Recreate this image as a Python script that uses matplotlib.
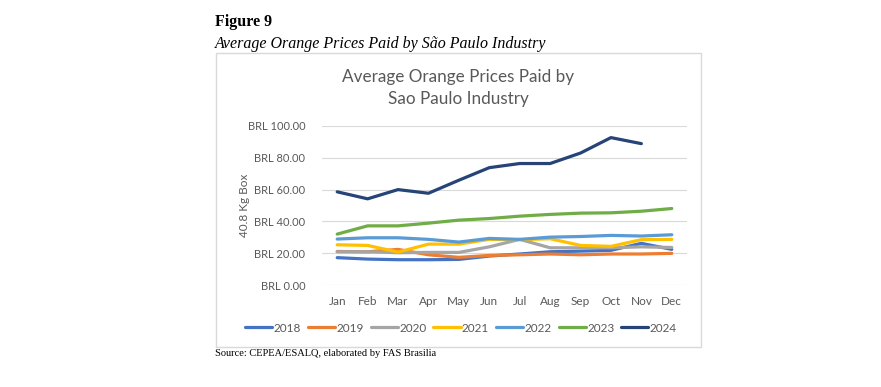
import matplotlib
matplotlib.use("Agg")
import matplotlib.pyplot as plt
from matplotlib.patches import Rectangle

# Data (BRL per 40.8 kg box)
months = ['Jan', 'Feb', 'Mar', 'Apr', 'May', 'Jun', 'Jul', 'Aug', 'Sep', 'Oct', 'Nov', 'Dec']
p2018 = [17.2, 16.3, 15.9, 15.9, 16.1, 18.2, 19.5, 20.9, 21.3, 21.8, 26.2, 22.4]
p2019 = [21.1, 20.9, 22.4, 19.0, 17.4, 18.6, 19.0, 19.5, 19.0, 19.5, 19.5, 19.9]
p2020 = [20.9, 20.9, 20.3, 20.5, 20.5, 24.0, 28.7, 23.4, 23.4, 23.4, 24.0, 23.6]
p2021 = [25.3, 24.9, 20.7, 25.7, 25.7, 28.7, 28.5, 29.1, 24.9, 24.3, 28.5, 28.7]
p2022 = [28.9, 29.7, 29.7, 28.7, 27.0, 29.3, 28.7, 30.1, 30.5, 31.2, 30.8, 31.6]
p2023 = [32.0, 37.2, 37.2, 38.9, 40.8, 41.8, 43.3, 44.4, 45.2, 45.4, 46.4, 48.1]
p2024 = [58.6, 54.2, 60.0, 57.7, 65.9, 73.8, 76.4, 76.4, 83.0, 92.7, 88.9]

series = [
    ('2018', p2018, '#4472C4'),
    ('2019', p2019, '#ED7D31'),
    ('2020', p2020, '#A5A5A5'),
    ('2021', p2021, '#FFC000'),
    ('2022', p2022, '#5B9BD5'),
    ('2023', p2023, '#70AD47'),
    ('2024', p2024, '#264478'),
]

gray = '#595959'
chart_font = ['Lato', 'DejaVu Sans']
serif = ['Liberation Serif', 'DejaVu Serif']

fig = plt.figure(figsize=(8.81, 3.87), dpi=100)
W, H = 881, 387

# caption above the chart
fig.text(215 / W, 1 - 22 / H, 'Figure 9', family=serif, weight='bold', fontsize=11.5, va='center')
fig.text(215 / W, 1 - 44 / H, 'Average Orange Prices Paid by São Paulo Industry',
         family=serif, style='italic', fontsize=11.5, va='center')
fig.text(215 / W, 1 - 354 / H, 'Source: CEPEA/ESALQ, elaborated by FAS Brasilia',
         family=serif, fontsize=7.5, va='center')

# chart border
fig.patches.append(Rectangle((216 / W, 1 - 347 / H), (701 - 216) / W, (347 - 53) / H,
                             transform=fig.transFigure, fill=False, edgecolor='#D9D9D9', lw=1))

fig.text(458 / W, 1 - 77 / H, 'Average Orange Prices Paid by', family=chart_font,
         fontsize=12.3, color=gray, ha='center', va='center')
fig.text(458 / W, 1 - 99 / H, 'Sao Paulo Industry', family=chart_font,
         fontsize=12.3, color=gray, ha='center', va='center')

ax = fig.add_axes([322 / W, 1 - 285 / H, (687 - 322) / W, (285 - 126) / H])
x = list(range(len(months)))
for name, vals, col in series:
    ax.plot(x[:len(vals)], vals, color=col, lw=2.3, label=name, solid_capstyle='round')

ax.set_xlim(-0.5, 11.5)
ax.set_ylim(0, 100)
ax.set_yticks([0, 20, 40, 60, 80, 100])
ax.set_yticklabels([f'BRL {v:.2f}' for v in [0, 20, 40, 60, 80, 100]])
ax.set_xticks(x)
ax.set_xticklabels(months)
ax.grid(axis='y', color='#D9D9D9', lw=0.8)
ax.set_axisbelow(True)
for s in ax.spines.values():
    s.set_visible(False)
ax.tick_params(length=0, colors=gray, labelsize=8.5)
ax.tick_params(axis='y', labelsize=8, pad=12)
ax.tick_params(axis='x', pad=8)
for lab in ax.get_xticklabels() + ax.get_yticklabels():
    lab.set_family(chart_font)
ax.set_ylabel('40.8 Kg Box', family=chart_font, fontsize=8.5, color=gray)
ax.yaxis.set_label_coords((250 - 322) / (687 - 322), 0.5)

fig.legend(loc='center', bbox_to_anchor=(461 / W, 1 - 328 / H), ncol=7, frameon=False,
           prop={'family': chart_font, 'size': 8.5}, labelcolor=gray,
           handlelength=2.3, handletextpad=0.1, columnspacing=0.6)

fig.savefig('out.png', dpi=100)
